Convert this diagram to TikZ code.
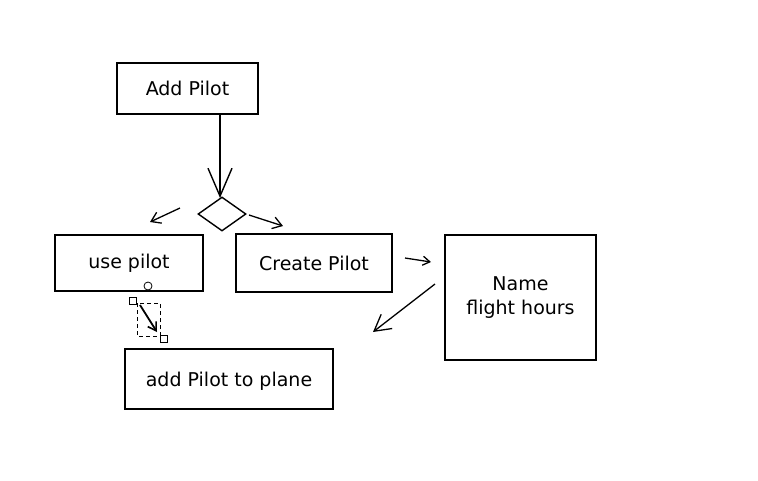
\documentclass[tikz,border=0pt]{standalone}
\usepackage{fontspec}
\setmainfont{DejaVu Sans}
\usetikzlibrary{arrows.meta,shapes.geometric}
\begin{document}
\begin{tikzpicture}[x=1pt,y=-1pt,
  lbl/.style={font=\fontsize{19}{24}\selectfont},
  arr/.style={line width=1.3pt,-{Straight Barb[length=9pt,width=12pt,line width=1.3pt]}},
  handle/.style={draw,line width=0.8pt,fill=white,minimum size=7pt,inner sep=0}]
\useasboundingbox (0,0) rectangle (758,480);
\fill[white] (0,0) rectangle (758,480);
% boxes
\draw[line width=1.4pt] (117,63) rectangle (258,114);
\node[lbl] (add) at (187.5,88.5) {Add Pilot};
\coordinate (addS) at (220,114);
\node[draw,line width=1.4pt,diamond,minimum width=48pt,minimum height=34pt,inner sep=0,aspect=1.4] (dec) at (222,214) {};
\draw[line width=1.4pt] (55,235) rectangle (203,291);
\node[lbl] (use) at (129,263) {use pilot};
\draw[line width=1.4pt] (236,234) rectangle (392,292);
\node[lbl] (create) at (314,263) {Create Pilot};
\draw[line width=1.4pt] (445,235) rectangle (596,360);
\node[lbl,align=center] (name) at (520.5,298) {Name\\flight hours};
\draw[line width=1.4pt] (125,349) rectangle (333,409);
\node[lbl] (plane) at (229,381) {add Pilot to plane};
% arrows
\coordinate (addT) at (220,198);
\draw[line width=1.4pt,-{Straight Barb[length=28pt,width=24pt,line width=1.4pt]}] (addS) -- (addT);
\coordinate (l1) at (180,208); \coordinate (l2) at (150,222);
\draw[arr] (l1) -- (l2);
\coordinate (r1) at (249,215); \coordinate (r2) at (283,226);
\draw[arr] (r1) -- (r2);
\coordinate (c1) at (405,258); \coordinate (c2) at (431,262);
\draw[line width=1.3pt,-{Straight Barb[length=7pt,width=9pt,line width=1.3pt]}] (c1) -- (c2);
\coordinate (n1) at (435,284); \coordinate (n2) at (373,332);
\draw[line width=1.3pt,-{Straight Barb[length=16pt,width=18pt,line width=1.3pt]}] (n1) -- (n2);
% selection handles
\draw[dash pattern=on 4pt off 3pt,line width=0.8pt] (137,303) rectangle (160,336);
\coordinate (s1) at (140,305); \coordinate (s2) at (157,332);
\draw[line width=1.8pt,-{Straight Barb[length=8pt,width=10pt,line width=1.6pt]}] (s1) -- (s2);
\node[handle] (h1) at (133,301) {};
\node[handle] (h2) at (164,339) {};
\node[draw,circle,line width=0.8pt,fill=white,minimum size=8pt,inner sep=0] (h3) at (148,286) {};
\end{tikzpicture}
\end{document}
